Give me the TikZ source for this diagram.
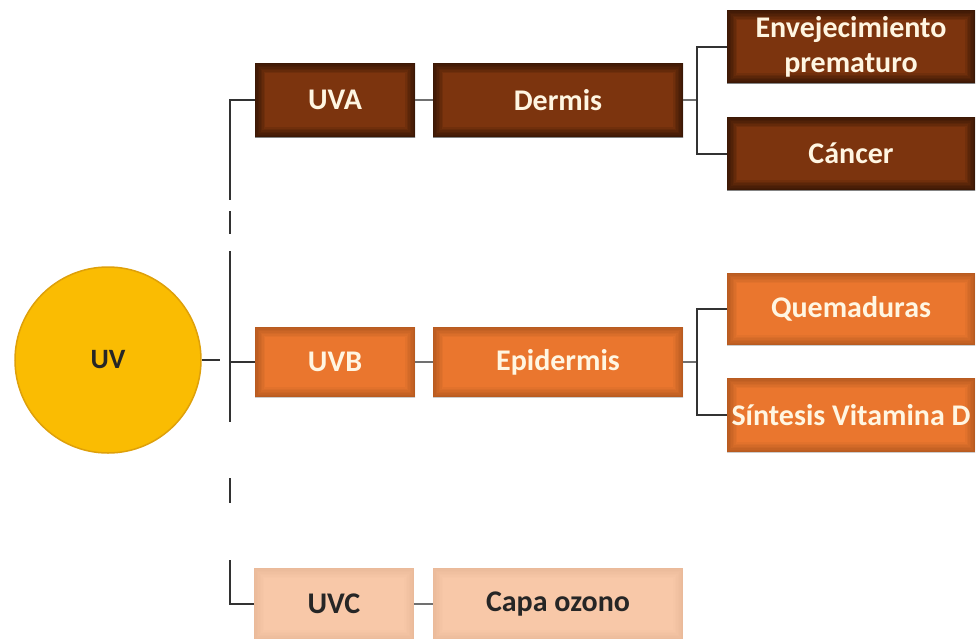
\documentclass[tikz,border=0pt]{standalone}
\usepackage{fontspec}
\setmainfont{Carlito}
\usepackage{tikz}
\definecolor{uvyellow}{RGB}{250,188,2}
\definecolor{uvyellowdark}{RGB}{222,160,10}
\definecolor{uvabrown}{RGB}{124,52,14}
\definecolor{uvborange}{RGB}{234,118,46}
\definecolor{uvcpeach}{RGB}{248,200,168}
\definecolor{cream}{RGB}{255,246,226}
\definecolor{linegray}{RGB}{50,50,50}

\tikzset{
  shade inner/.style={path picture={
      \foreach \w in {2,5,...,20}
        \draw[black,opacity=#1,line width=\w pt]
          (path picture bounding box.south west) rectangle (path picture bounding box.north east);
    }},
  box/.style={rectangle, inner sep=0pt, align=center},
  uvabox/.style={box, fill=uvabrown, text=cream, shade inner=.09},
  uvbbox/.style={box, fill=uvborange, text=cream, shade inner=.03},
  uvcbox/.style={box, fill=uvcpeach, text=black!85, shade inner=.008},
  link/.style={draw=linegray, line width=2pt},
}

\begin{document}
\begin{tikzpicture}[x=1pt, y=-1pt]
            \tikzstyle{every node}=[font=\fontsize{30}{35}\selectfont\bfseries]
            \useasboundingbox (0,0) rectangle (976,638);
            % sol
            \node[circle, fill=uvyellow, draw=uvyellowdark, line width=1.5pt,
                  minimum size=186pt, inner sep=0pt, text=black!85,
                  font=\fontsize{28}{32}\selectfont\bfseries] (uv) at (108, 360) {UV};
            % rama UVA
            \node[uvabox, minimum width=160pt, minimum height=74pt] (uva) at (335, 100) {UVA};
            \node[uvabox, minimum width=250pt, minimum height=74pt] (derm) at (558, 100) {Dermis};
            \node[uvabox, minimum width=248pt, minimum height=73pt] (env) at (851, 46.5) {Envejecimiento\\prematuro};
            \node[uvabox, minimum width=248pt, minimum height=73pt] (canc) at (851, 153.5) {Cáncer};
            % rama UVB
            \node[uvbbox, minimum width=160pt, minimum height=70pt] (uvb) at (335, 362) {UVB};
            \node[uvbbox, minimum width=250pt, minimum height=70pt] (epid) at (558, 362) {Epidermis};
            \node[uvbbox, minimum width=248pt, minimum height=72pt] (quem) at (851, 309) {Quemaduras};
            \node[uvbbox, minimum width=248pt, minimum height=74pt] (sint) at (851, 415) {Síntesis Vitamina D};
            % rama UVC
            \node[uvcbox, minimum width=160pt, minimum height=72pt] (uvc) at (334, 604) {UVC};
            \node[uvcbox, minimum width=250pt, minimum height=72pt] (capa) at (558, 604) {Capa ozono};

            % tramos del eje (con cortes)
            \coordinate (uvend) at (220, 360);
            \coordinate (cutA) at (230, 200);
            \coordinate (dashAt) at (230, 211);
            \coordinate (dashAb) at (230, 234);
            \coordinate (midt) at (230, 251);
            \coordinate (midb) at (230, 422);
            \coordinate (dashBt) at (230, 478);
            \coordinate (dashBb) at (230, 503);
            \coordinate (lowt) at (230, 560);

            \draw[link] (uv.east) -- (uvend);
            \draw[link] (uva.west) -| (cutA);
            \draw[link] (dashAt) -- (dashAb);
            \draw[link] (midt) -- (midb);
            \draw[link] (uvb.west) -- (uvb.west -| midt);
            \draw[link] (dashBt) -- (dashBb);
            \draw[link] (lowt) |- (uvc.west);

            \draw[link, draw=linegray!70] (uva) -- (derm);
            \draw[link, draw=linegray!70] (uvb) -- (epid);
            \draw[link, draw=linegray!70] (uvc) -- (capa);

            % horquillas
            \draw[link, draw=linegray!70] (derm.east) -- ++(14,0);
            \draw[link] (env.west) -- ++(-30,0) |- (canc.west);
            \draw[link, draw=linegray!70] (epid.east) -- ++(14,0);
            \draw[link] (quem.west) -- ++(-30,0) |- (sint.west);
          \end{tikzpicture}
\end{document}
